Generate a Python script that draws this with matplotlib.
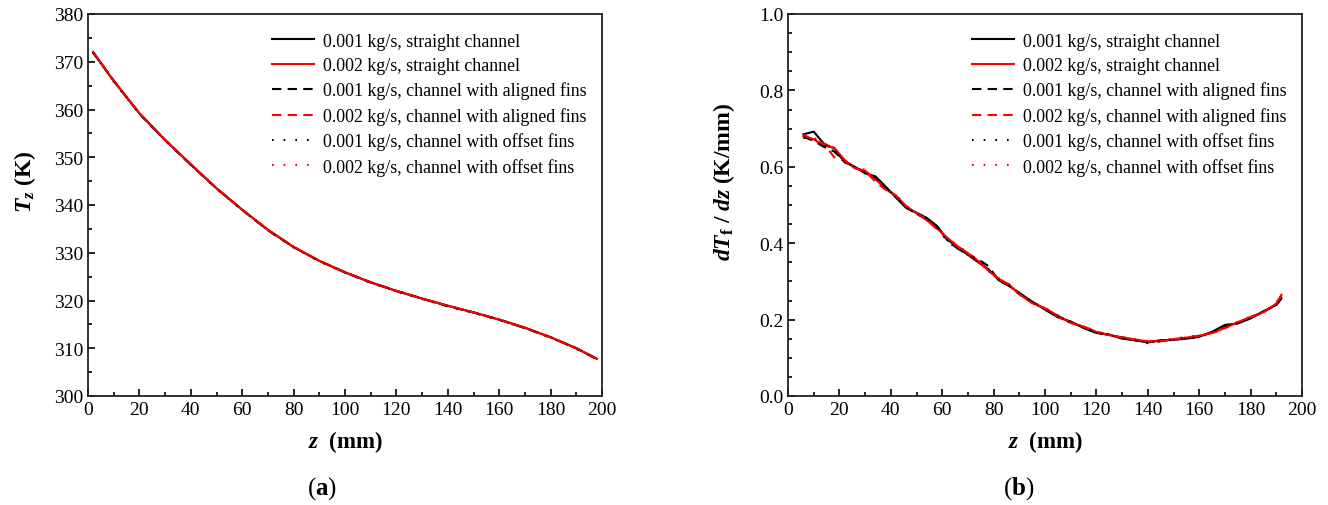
import numpy as np
import matplotlib.pyplot as plt
from matplotlib.ticker import MultipleLocator

plt.rcParams['font.family'] = 'Liberation Serif'
plt.rcParams['mathtext.fontset'] = 'custom'
plt.rcParams['mathtext.rm'] = 'Liberation Serif'
plt.rcParams['mathtext.it'] = 'Liberation Serif:italic'
plt.rcParams['mathtext.bf'] = 'Liberation Serif:bold'
plt.rcParams['mathtext.bfit'] = 'Liberation Serif:italic:bold'

labels = ['0.001 kg/s, straight channel',
          '0.002 kg/s, straight channel',
          '0.001 kg/s, channel with aligned fins',
          '0.002 kg/s, channel with aligned fins',
          '0.001 kg/s, channel with offset fins',
          '0.002 kg/s, channel with offset fins']

# (a) bulk temperature along the channel
z_a = [2, 10, 20, 30, 40, 50, 60, 70, 80, 90, 100, 110, 120, 130, 140, 150, 160, 170, 180, 190, 198]
T_s1 = [372.0, 366.0, 359.2, 353.6, 348.5, 343.5, 339.0, 334.8, 331.2, 328.3, 325.9,
        323.8, 322.0, 320.4, 318.9, 317.5, 316.0, 314.3, 312.3, 310.0, 307.8]
T_s2 = [372.0, 366.0, 359.2, 353.6, 348.5, 343.5, 339.0, 334.8, 331.2, 328.3, 325.9,
        323.8, 322.0, 320.4, 318.9, 317.5, 316.0, 314.3, 312.3, 310.0, 307.8]
T_a1 = [371.9, 366.0, 359.1, 353.6, 348.4, 343.5, 339.0, 334.7, 331.2, 328.3, 325.9,
        323.8, 322.0, 320.4, 318.8, 317.5, 316.0, 314.2, 312.3, 310.0, 307.7]
T_a2 = [372.0, 366.0, 359.2, 353.6, 348.5, 343.5, 339.0, 334.8, 331.2, 328.3, 325.9,
        323.8, 322.0, 320.4, 318.9, 317.5, 316.0, 314.3, 312.3, 310.0, 307.8]
T_o1 = [371.9, 365.9, 359.1, 353.5, 348.4, 343.4, 338.9, 334.7, 331.1, 328.2, 325.8,
        323.7, 321.9, 320.3, 318.8, 317.4, 315.9, 314.2, 312.2, 309.9, 307.7]
T_o2 = [372.0, 366.0, 359.2, 353.6, 348.5, 343.5, 339.0, 334.8, 331.2, 328.3, 325.9,
        323.8, 322.0, 320.4, 318.9, 317.5, 316.0, 314.3, 312.3, 310.0, 307.8]

# (b) temperature gradient along the channel
z_b = [6, 10, 14, 18, 22, 26, 30, 34, 38, 42, 46, 50, 54, 58, 62, 66, 70, 74, 78, 82, 86,
       90, 95, 100, 105, 110, 115, 120, 125, 130, 135, 140, 145, 150, 155, 160, 165, 170,
       175, 180, 185, 190, 192]
g_s1 = [0.685, 0.692, 0.660, 0.648, 0.612, 0.600, 0.583, 0.575, 0.548, 0.520, 0.492, 0.480,
        0.466, 0.445, 0.410, 0.388, 0.370, 0.350, 0.332, 0.303, 0.288, 0.270, 0.247, 0.226,
        0.206, 0.195, 0.178, 0.165, 0.161, 0.150, 0.146, 0.140, 0.146, 0.147, 0.150, 0.155,
        0.168, 0.186, 0.190, 0.203, 0.222, 0.238, 0.255]
g_s2 = [0.680, 0.672, 0.655, 0.650, 0.618, 0.596, 0.590, 0.568, 0.542, 0.525, 0.497, 0.478,
        0.460, 0.438, 0.414, 0.392, 0.374, 0.354, 0.328, 0.307, 0.292, 0.266, 0.244, 0.230,
        0.210, 0.191, 0.182, 0.168, 0.159, 0.154, 0.148, 0.143, 0.143, 0.149, 0.153, 0.158,
        0.165, 0.178, 0.193, 0.207, 0.219, 0.242, 0.265]
g_a1 = [0.678, 0.668, 0.652, 0.640, 0.614, 0.600, 0.584, 0.572, 0.546, 0.520, 0.494, 0.476,
        0.465, 0.442, 0.408, 0.386, 0.370, 0.358, 0.340, 0.302, 0.289, 0.269, 0.246, 0.227,
        0.209, 0.194, 0.179, 0.166, 0.160, 0.152, 0.146, 0.141, 0.145, 0.148, 0.151, 0.156,
        0.167, 0.181, 0.191, 0.204, 0.221, 0.239, 0.260]
g_a2 = [0.684, 0.670, 0.660, 0.625, 0.616, 0.597, 0.588, 0.562, 0.540, 0.524, 0.496, 0.479,
        0.462, 0.437, 0.413, 0.391, 0.373, 0.351, 0.329, 0.306, 0.291, 0.267, 0.243, 0.229,
        0.207, 0.192, 0.181, 0.168, 0.159, 0.153, 0.147, 0.142, 0.144, 0.148, 0.152, 0.157,
        0.165, 0.179, 0.193, 0.206, 0.220, 0.241, 0.263]
g_o1 = [0.676, 0.674, 0.656, 0.644, 0.613, 0.599, 0.585, 0.571, 0.547, 0.521, 0.493, 0.477,
        0.464, 0.441, 0.405, 0.384, 0.371, 0.353, 0.331, 0.304, 0.289, 0.268, 0.245, 0.228,
        0.208, 0.193, 0.180, 0.166, 0.159, 0.152, 0.146, 0.139, 0.143, 0.147, 0.151, 0.154,
        0.166, 0.180, 0.191, 0.204, 0.220, 0.239, 0.258]
g_o2 = [0.683, 0.676, 0.662, 0.648, 0.617, 0.600, 0.592, 0.565, 0.538, 0.527, 0.498, 0.480,
        0.461, 0.436, 0.415, 0.393, 0.376, 0.355, 0.327, 0.309, 0.293, 0.265, 0.246, 0.231,
        0.211, 0.190, 0.183, 0.169, 0.160, 0.155, 0.149, 0.144, 0.146, 0.150, 0.155, 0.159,
        0.164, 0.177, 0.195, 0.208, 0.218, 0.243, 0.268]

colors = ['black', 'red', 'black', 'red', 'black', 'red']
styles = ['-', '-', (0, (4.5, 3)), (0, (4.5, 3)), (0, (0.8, 4.8)), (0, (0.8, 4.8))]

fig = plt.figure(figsize=(13.28, 5.06), dpi=100)
ax1 = fig.add_axes([88 / 1328, 109 / 506, 514 / 1328, 382 / 506])
ax2 = fig.add_axes([788 / 1328, 109 / 506, 514 / 1328, 382 / 506])

for ys, c, ls, lab in zip([T_s1, T_s2, T_a1, T_a2, T_o1, T_o2], colors, styles, labels):
    ax1.plot(z_a, ys, color=c, linestyle=ls, lw=1.5, label=lab)
for ys, c, ls, lab in zip([g_s1, g_s2, g_a1, g_a2, g_o1, g_o2], colors, styles, labels):
    ax2.plot(z_b, ys, color=c, linestyle=ls, lw=1.5, label=lab)

ax1.set_xlim(0, 200)
ax1.set_ylim(300, 380)
ax1.yaxis.set_major_locator(MultipleLocator(10))
ax1.yaxis.set_minor_locator(MultipleLocator(5))
ax2.set_xlim(0, 200)
ax2.set_ylim(0, 1.0)
ax2.yaxis.set_major_locator(MultipleLocator(0.2))
ax2.yaxis.set_minor_locator(MultipleLocator(0.05))
ax2.yaxis.set_major_formatter(plt.FormatStrFormatter('%.1f'))

for ax in (ax1, ax2):
    ax.xaxis.set_major_locator(MultipleLocator(20))
    ax.xaxis.set_minor_locator(MultipleLocator(10))
    ax.tick_params(which='both', direction='in', labelsize=14, width=1.2)
    ax.tick_params(which='major', length=5)
    ax.tick_params(which='minor', length=3)
    for sp in ax.spines.values():
        sp.set_linewidth(1.3)
        sp.set_color('#222222')
    ax.set_xlabel(r'$\mathbfit{z}\ \ \mathbf{(mm)}$', fontsize=16.5)
    ax.xaxis.set_label_coords(0.5, -0.085)
    ax.legend(loc='upper left', bbox_to_anchor=(0.340, 0.975), frameon=False,
              fontsize=12.9, borderpad=0, handlelength=2.35, handletextpad=0.5,
              labelspacing=0.42)

ax1.set_ylabel(r'$\mathbfit{T}_{\mathbfit{z}}\ \mathbf{(K)}$', fontsize=17)
ax1.yaxis.set_label_coords(-0.097, 0.563)
ax2.set_ylabel(r'$\mathbfit{dT}_{\mathbf{f}}\ \mathbf{/}\ \mathbfit{dz}\ \mathbf{(K/mm)}$', fontsize=17)
ax2.yaxis.set_label_coords(-0.099, 0.563)

fig.text(322 / 1328, 1 - 489 / 506, r'($\mathbf{a}$)', fontsize=18, ha='center', va='center')
fig.text(1019 / 1328, 1 - 489 / 506, r'($\mathbf{b}$)', fontsize=18, ha='center', va='center')

fig.savefig('out.png', dpi=100)
